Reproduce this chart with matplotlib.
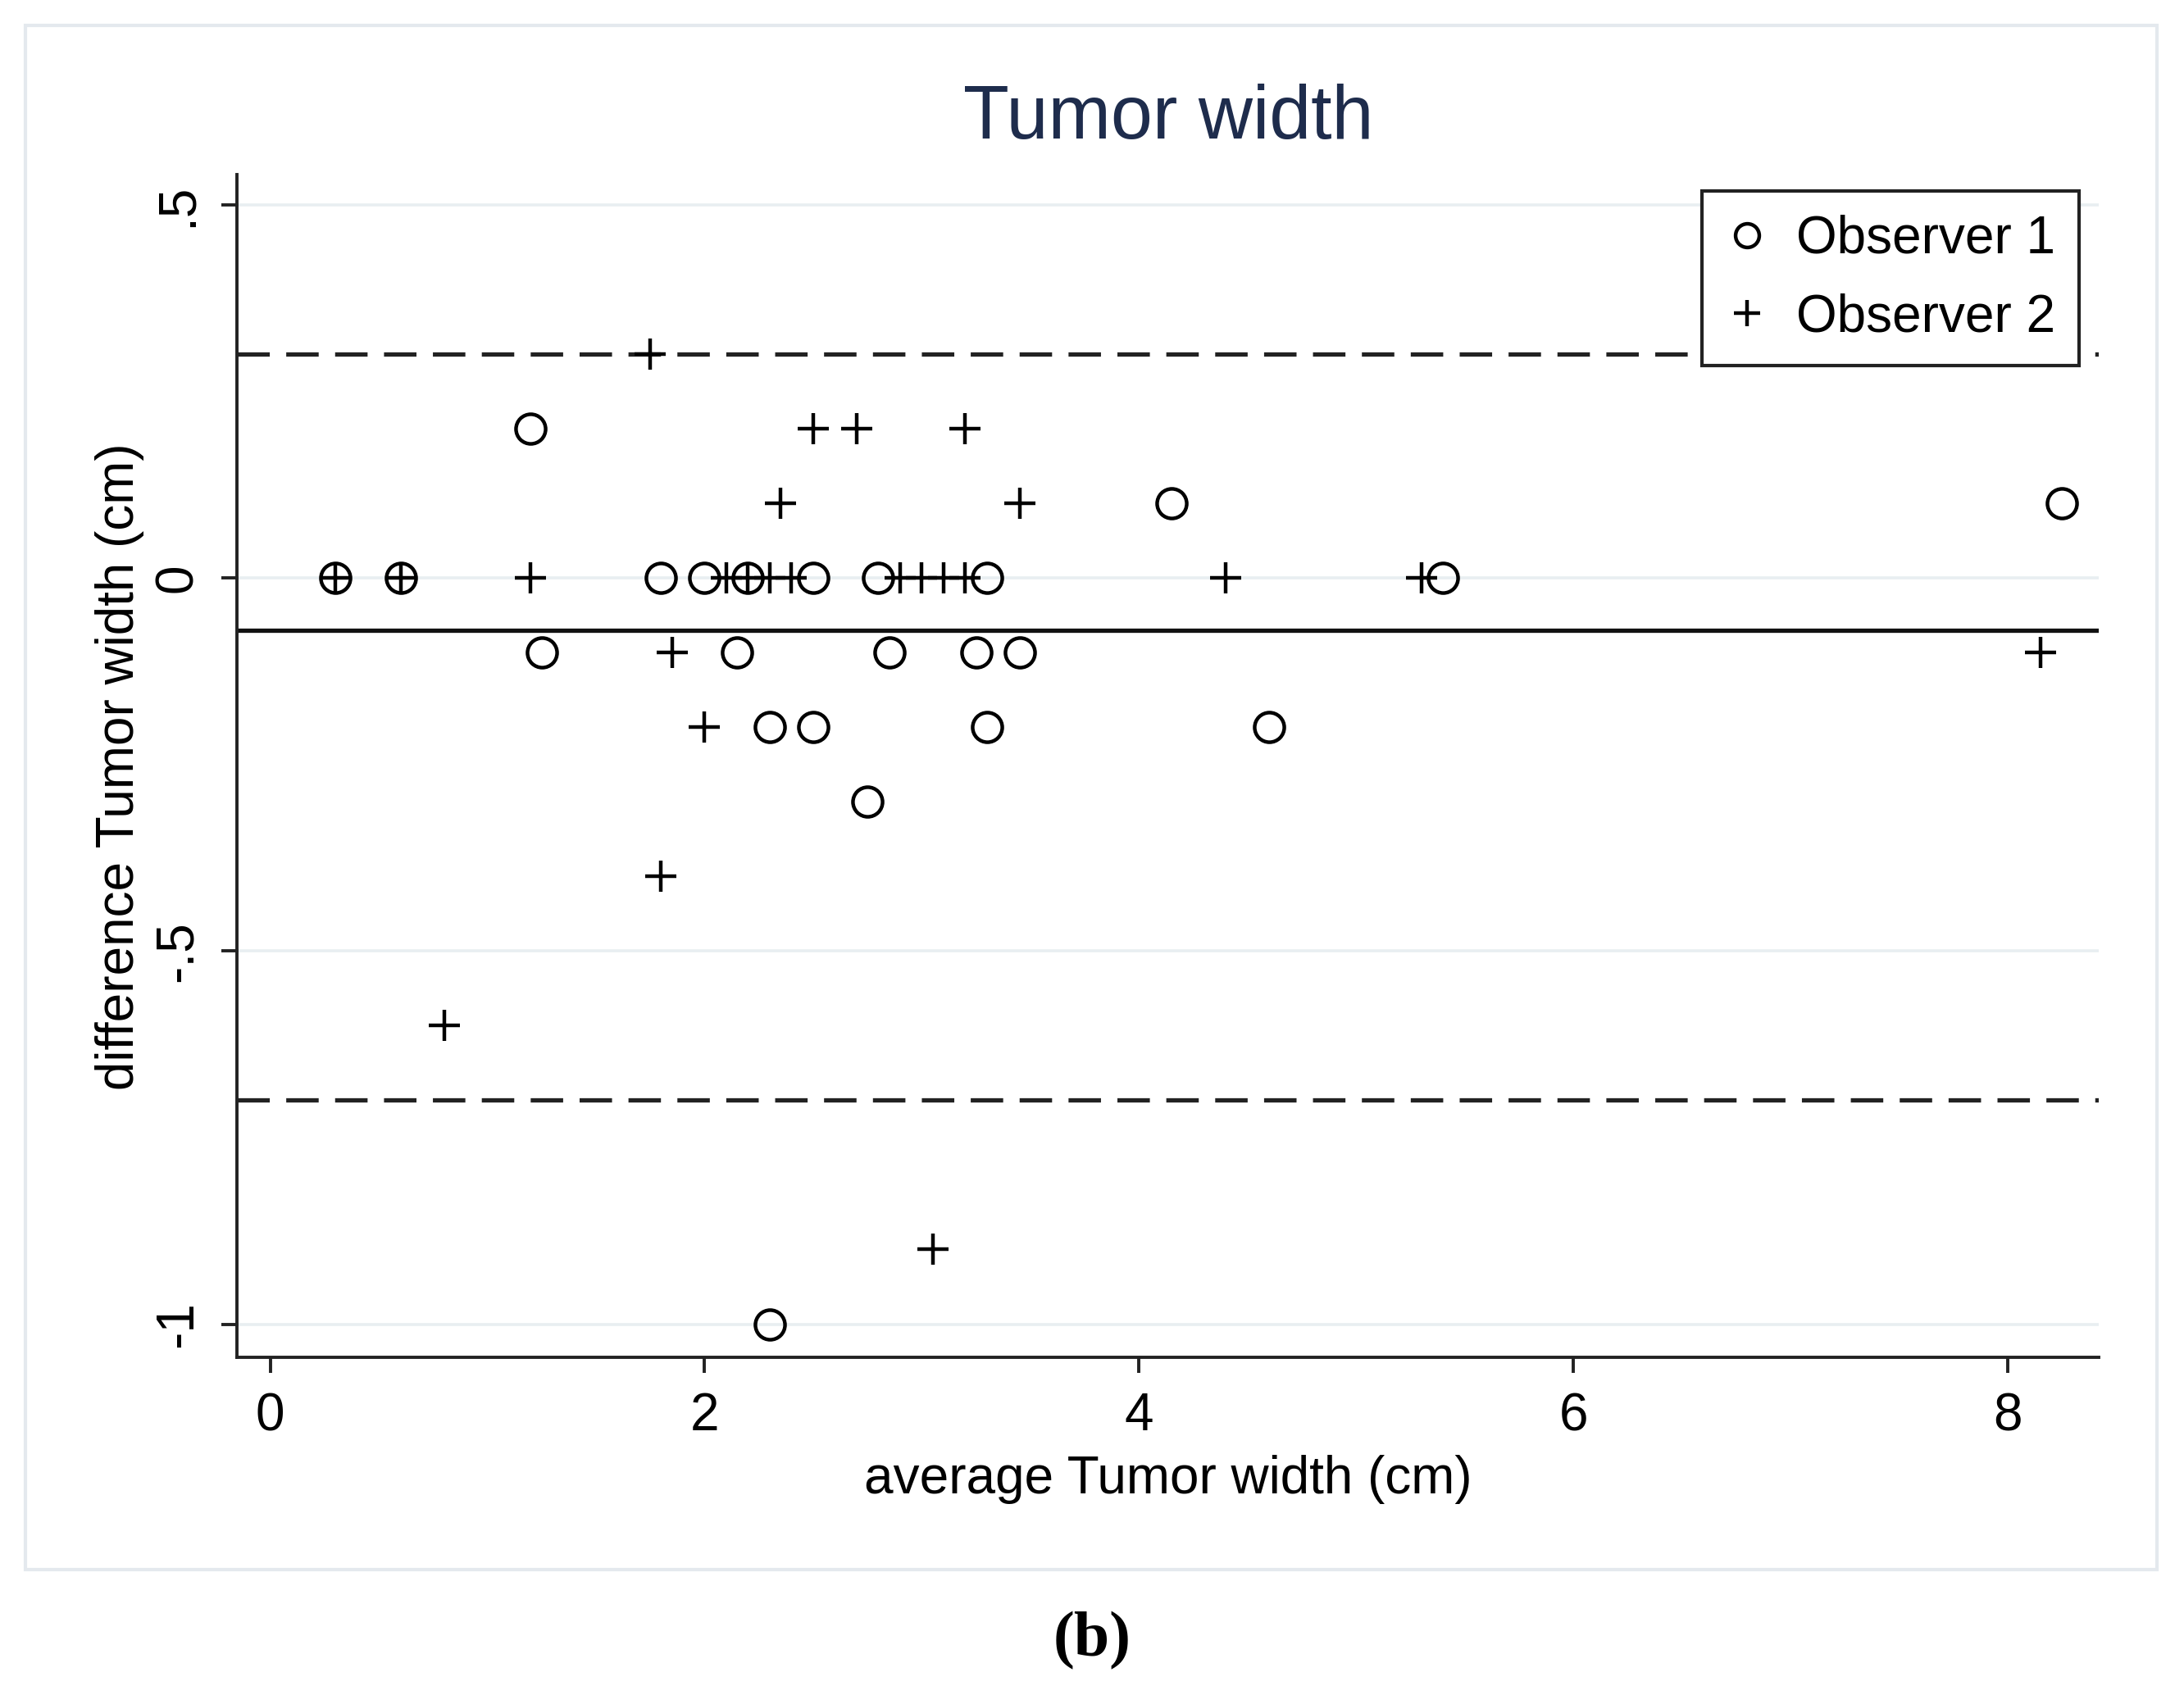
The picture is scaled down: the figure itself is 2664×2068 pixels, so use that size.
import numpy as np
import matplotlib
matplotlib.use("Agg")
import matplotlib.pyplot as plt
from matplotlib.patches import Rectangle

# Bland-Altman style plot, tumor width, two observers
obs1_avg = [0.3, 0.6, 1.2, 1.25, 1.8, 2.0, 2.15, 2.2, 2.3, 2.3, 2.5, 2.5,
            2.75, 2.8, 2.85, 3.25, 3.3, 3.3, 3.45, 4.15, 4.6, 5.4, 8.25]
obs1_diff = [0, 0, 0.2, -0.1, 0, 0, -0.1, 0, -0.2, -1.0, 0, -0.2,
             -0.3, 0, -0.1, -0.1, 0, -0.2, -0.1, 0.1, -0.2, 0, 0.1]

obs2_avg = [0.3, 0.6, 0.8, 1.2, 1.75, 1.8, 1.85, 2.0, 2.1, 2.2, 2.3, 2.35,
            2.4, 2.5, 2.7, 2.9, 3.0, 3.05, 3.1, 3.2, 3.2, 3.45, 4.4, 5.3, 8.15]
obs2_diff = [0, 0, -0.6, 0, 0.3, -0.4, -0.1, -0.2, 0, 0, 0, 0.1,
             0, 0.2, 0.2, 0, 0, -0.9, 0, 0, 0.2, 0.1, 0, 0, -0.1]

mean_diff = -0.07
upper_loa = 0.3
lower_loa = -0.7

x_ticks = [0, 2, 4, 6, 8]
y_ticks = [0.5, 0, -0.5, -1]
y_ticklabels = [".5", "0", "-.5", "-1"]

plt.rcParams["font.family"] = ["Liberation Sans", "DejaVu Sans"]

fig = plt.figure(figsize=(13.32, 10.34), dpi=200)
fig.patches.append(Rectangle((0.0115, 0.074), 0.976, 0.911, transform=fig.transFigure,
                             facecolor="none", edgecolor="#e4e9ee", lw=1.5, zorder=-1))

ax = fig.add_axes([0.1084, 0.199, 0.8526, 0.698])
ax.set_facecolor("white")

for yt in y_ticks:
    ax.axhline(yt, color="#e8eef1", lw=1.3, zorder=1)

ax.axhline(upper_loa, color="#222222", lw=1.9, dashes=(7.5, 3.8), zorder=2)
ax.axhline(lower_loa, color="#222222", lw=1.9, dashes=(7.5, 3.8), zorder=2)
ax.axhline(mean_diff, color="#111111", lw=1.9, zorder=2)

ax.plot(obs1_avg, obs1_diff, linestyle="none", marker="o", markersize=13,
        markerfacecolor="none", markeredgecolor="black", markeredgewidth=1.6,
        label="Observer 1", zorder=3)
ax.plot(obs2_avg, obs2_diff, linestyle="none", marker="+", markersize=14,
        markeredgecolor="black", markeredgewidth=1.6, label="Observer 2", zorder=3)

ax.set_xlim(-0.154, 8.42)
ax.set_ylim(-1.045, 0.541)
ax.set_xticks(x_ticks)
ax.set_xticklabels([str(t) for t in x_ticks])
ax.set_yticks(y_ticks)
ax.set_yticklabels(y_ticklabels, rotation=90, va="center")

for s in ["top", "right"]:
    ax.spines[s].set_visible(False)
for s in ["left", "bottom"]:
    ax.spines[s].set_linewidth(1.4)
    ax.spines[s].set_color("#222222")
ax.tick_params(axis="both", direction="out", length=7, width=1.4, color="#222222",
               labelsize=23, pad=8)

ax.set_xlabel("average Tumor width (cm)", fontsize=23, labelpad=6)
ax.set_ylabel("difference Tumor width (cm)", fontsize=23, labelpad=4)

fig.text(0.535, 0.930, "Tumor width", ha="center", va="center", fontsize=33,
         color="#1e2c4c")

leg = ax.legend(loc="upper right", bbox_to_anchor=(0.9895, 0.986), borderaxespad=0,
                fontsize=23, frameon=True, fancybox=False, edgecolor="#222222",
                framealpha=1, handletextpad=0.55, borderpad=0.45, labelspacing=0.55,
                markerscale=0.8, handlelength=0.8)
leg.get_frame().set_linewidth(1.5)

fig.text(0.50, 0.032, "(b)", ha="center", va="center", fontsize=28,
         fontweight="bold", family=["Liberation Serif", "DejaVu Serif"])

fig.savefig("out.png", dpi=200)
